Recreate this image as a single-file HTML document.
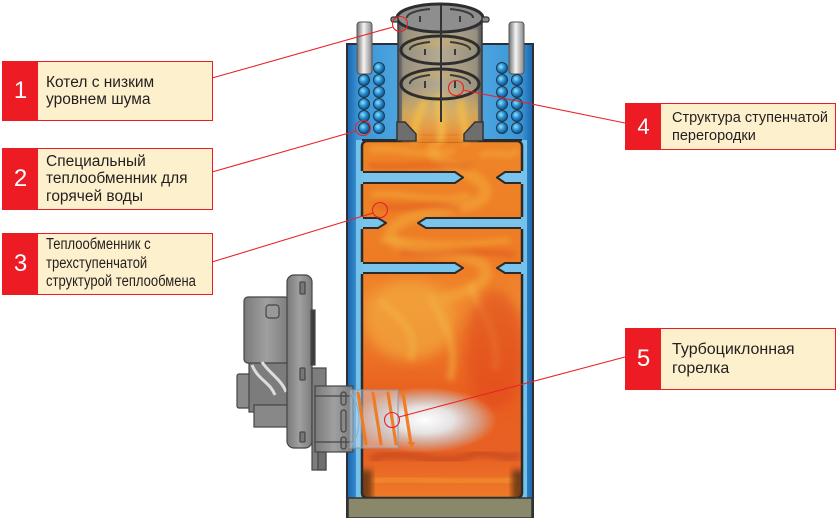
<!DOCTYPE html>
<html><head><meta charset="utf-8">
<style>
html,body{margin:0;padding:0;background:#fff;}
body{width:838px;height:518px;position:relative;overflow:hidden;font-family:"Liberation Sans",Arial,sans-serif;}
svg{position:absolute;left:0;top:0;}
.lab{position:absolute;box-sizing:border-box;border:1.5px solid #ed1c24;background:#fdf0cc;}
.num{position:absolute;left:0;top:0;bottom:0;width:35px;background:#ed1c24;color:#fff;font-size:24px;display:flex;align-items:center;justify-content:center;}
.txt{position:absolute;top:0;bottom:0;display:flex;align-items:center;font-size:15.5px;line-height:17.5px;color:#231f20;white-space:nowrap;}
.cond{display:inline-block;transform:scaleX(0.84);transform-origin:left center;font-size:15.5px;line-height:18.5px;}
</style></head>
<body>
<svg width="838" height="518" viewBox="0 0 838 518">
<defs>
 <linearGradient id="wall" x1="347" x2="533" y1="0" y2="0" gradientUnits="userSpaceOnUse">
  <stop offset="0" stop-color="#1b62ab"/><stop offset="0.06" stop-color="#3a96d8"/>
  <stop offset="0.5" stop-color="#5fb3e6"/><stop offset="0.94" stop-color="#3a96d8"/>
  <stop offset="1" stop-color="#1b62ab"/>
 </linearGradient>
 <linearGradient id="fire" x1="0" y1="141" x2="0" y2="498" gradientUnits="userSpaceOnUse">
  <stop offset="0" stop-color="#ef8527"/><stop offset="0.35" stop-color="#ee7b26"/>
  <stop offset="0.45" stop-color="#f08a30"/><stop offset="0.7" stop-color="#e9611f"/>
  <stop offset="0.88" stop-color="#e86024"/><stop offset="1" stop-color="#ee7a28"/>
 </linearGradient>
 <linearGradient id="chim" x1="398" x2="482" y1="0" y2="0" gradientUnits="userSpaceOnUse">
  <stop offset="0" stop-color="#555"/><stop offset="0.08" stop-color="#858585"/>
  <stop offset="0.5" stop-color="#aaa69e"/><stop offset="0.92" stop-color="#858585"/>
  <stop offset="1" stop-color="#555"/>
 </linearGradient>
 <linearGradient id="chflame" x1="0" y1="85" x2="0" y2="142" gradientUnits="userSpaceOnUse">
  <stop offset="0" stop-color="#f5c050" stop-opacity="0"/>
  <stop offset="0.5" stop-color="#f6b544" stop-opacity="0.6"/>
  <stop offset="1" stop-color="#f08025" stop-opacity="1"/>
 </linearGradient>
 <linearGradient id="pipe" x1="0" x2="1" y1="0" y2="0">
  <stop offset="0" stop-color="#6f6f6f"/><stop offset="0.45" stop-color="#f5f5f5"/><stop offset="1" stop-color="#858585"/>
 </linearGradient>
 <radialGradient id="ball" cx="0.4" cy="0.38" r="0.65">
  <stop offset="0" stop-color="#8fe2ff"/><stop offset="0.5" stop-color="#2790d2"/><stop offset="1" stop-color="#0d4a82"/>
 </radialGradient>
 <radialGradient id="glow" cx="0.5" cy="0.5" r="0.5">
  <stop offset="0" stop-color="#ffffff" stop-opacity="1"/>
  <stop offset="0.4" stop-color="#e6f1f8" stop-opacity="0.9"/>
  <stop offset="0.72" stop-color="#c6e0f2" stop-opacity="0.5"/>
  <stop offset="1" stop-color="#c6e0f2" stop-opacity="0"/>
 </radialGradient>
 <linearGradient id="metal" x1="0" x2="1" y1="0" y2="0">
  <stop offset="0" stop-color="#7a7a7a"/><stop offset="0.5" stop-color="#a0a0a0"/><stop offset="1" stop-color="#7c7c7c"/>
 </linearGradient>
 <filter id="b3" x="-20%" y="-20%" width="140%" height="140%"><feGaussianBlur stdDeviation="3"/></filter>
 <filter id="b6" x="-30%" y="-30%" width="160%" height="160%"><feGaussianBlur stdDeviation="6"/></filter>
 <clipPath id="chamb"><rect x="362" y="141" width="160" height="357" rx="5"/></clipPath>
</defs>

<rect x="347" y="44" width="186" height="474" fill="url(#wall)" stroke="#2c3036" stroke-width="2"/>
<rect x="356" y="140" width="171" height="358" fill="#74c1ea"/>

<rect x="362" y="141" width="160" height="357" rx="5" fill="url(#fire)"/>
<g clip-path="url(#chamb)">
 <path d="M440 300 C470 290 490 285 485 267 C470 250 420 255 400 245 C380 235 395 225 405 220 C430 208 480 210 485 195 C490 180 460 170 440 160 C425 152 440 140 440 130" fill="none" stroke="#f3a73a" stroke-width="12" opacity="0.6" filter="url(#b3)"/>
 <path d="M370 150 C400 145 420 160 455 150 M480 155 C500 150 510 160 518 150 M372 195 C400 190 430 205 470 195 M380 240 C410 238 440 250 510 240" fill="none" stroke="#f4b440" stroke-width="5" opacity="0.55" filter="url(#b3)"/>
 <path d="M375 205 C400 212 430 200 460 210 M400 252 C430 258 470 248 515 255 M368 165 C400 170 430 160 470 168" fill="none" stroke="#d9461f" stroke-width="5" opacity="0.5" filter="url(#b3)"/>
 <ellipse cx="410" cy="320" rx="45" ry="40" fill="#f2a73c" opacity="0.7" filter="url(#b6)"/>
 <path d="M380 300 C400 320 420 330 410 360 M430 295 C440 320 460 340 450 380 M470 285 C480 310 500 330 495 370" fill="none" stroke="#f4b444" stroke-width="7" opacity="0.55" filter="url(#b3)"/>
 <ellipse cx="495" cy="350" rx="30" ry="60" fill="#e0471f" opacity="0.6" filter="url(#b6)"/>
 <path d="M370 460 C400 445 440 470 470 455 C490 448 505 462 520 455" fill="none" stroke="#b23e1c" stroke-width="8" opacity="0.5" filter="url(#b3)"/>
 <path d="M372 482 C400 472 440 487 515 480" fill="none" stroke="#f2902f" stroke-width="10" opacity="0.7" filter="url(#b3)"/>
 <rect x="358" y="470" width="14" height="32" fill="#2a1a10" opacity="0.6" filter="url(#b3)"/>
 <rect x="512" y="470" width="14" height="32" fill="#2a1a10" opacity="0.6" filter="url(#b3)"/>
</g>
<rect x="362" y="141" width="160" height="357" rx="5" fill="none" stroke="#2b2a28" stroke-width="2.5"/>

<g fill="#7ac4ec" stroke="#2b2a28" stroke-width="2" stroke-linejoin="round">
 <polygon points="362,172 455,172 463,177.5 455,183 362,183"/>
 <polygon points="522,172 505,172 497,177.5 505,183 522,183"/>
 <polygon points="522,218 426,218 418,223 426,228 522,228"/>
 <polygon points="362,218 378,218 386,223 378,228 362,228"/>
 <polygon points="362,263 455,263 463,268 455,273 362,273"/>
 <polygon points="522,263 505,263 497,268 505,273 522,273"/>
</g>
<rect x="358" y="171" width="5" height="13" fill="#74c1ea"/>
<rect x="358" y="217" width="5" height="12" fill="#74c1ea"/>
<rect x="358" y="262" width="5" height="12" fill="#74c1ea"/>
<rect x="521" y="171" width="5" height="13" fill="#74c1ea"/>
<rect x="521" y="217" width="5" height="12" fill="#74c1ea"/>
<rect x="521" y="262" width="5" height="12" fill="#74c1ea"/>

<rect x="349" y="46" width="182" height="94" fill="url(#wall)"/>
<line x1="362" y1="140" x2="522" y2="140" stroke="#2b2a28" stroke-width="2"/>

<rect x="398" y="18" width="84" height="117" fill="url(#chim)" stroke="#3a3a3a" stroke-width="1.5"/>
<ellipse cx="440" cy="18" rx="42" ry="13" fill="#8e8e8e"/>
<rect x="402" y="30" width="76" height="100" fill="#d8b870" opacity="0.25"/>
<path d="M410 40 C430 50 450 35 470 45 M412 75 C430 70 450 80 468 72" stroke="#e0b050" stroke-width="6" fill="none" opacity="0.45" filter="url(#b3)"/>
<rect x="402" y="85" width="76" height="57" fill="url(#chflame)"/>
<path d="M415 142 C412 125 420 115 425 100 M440 142 C445 120 436 110 440 95 M465 142 C468 125 458 112 462 100" stroke="#f6c048" stroke-width="7" fill="none" opacity="0.8" filter="url(#b3)"/>
<polygon points="397,122 405,122 416,134 416,141 397,141" fill="#6e6e6e" stroke="#333" stroke-width="1.5"/>
<polygon points="483,122 475,122 464,134 464,141 483,141" fill="#6e6e6e" stroke="#333" stroke-width="1.5"/>
<g fill="none" stroke="#2e2e2e" stroke-width="3">
 <ellipse cx="440" cy="18" rx="43" ry="14"/>
 <ellipse cx="440" cy="50" rx="39" ry="14"/>
 <ellipse cx="440" cy="84" rx="39" ry="15"/>
</g>
<g fill="none" stroke="#3a3a3a" stroke-width="2">
 <path d="M407 18 A33 9 0 0 1 430 9 M450 9 A33 9 0 0 1 473 18"/>
 <path d="M410 50 A30 8 0 0 1 430 42 M450 42 A30 8 0 0 1 470 50"/>
 <path d="M410 84 A30 9 0 0 1 430 75 M450 75 A30 9 0 0 1 470 84"/>
 <path d="M420 22 v-6 M460 22 v-6 M425 55 v-6 M455 55 v-6 M425 88 v-7 M455 88 v-7"/>
</g>
<line x1="441" y1="5" x2="441" y2="122" stroke="#333" stroke-width="2"/>
<rect x="391" y="17" width="7" height="5" rx="2" fill="#888" stroke="#333" stroke-width="1.2"/>
<rect x="482" y="17" width="7" height="5" rx="2" fill="#888" stroke="#333" stroke-width="1.2"/>

<rect x="357" y="22" width="15" height="52" rx="3" fill="url(#pipe)" stroke="#555" stroke-width="1"/>
<rect x="509" y="22" width="15" height="52" rx="3" fill="url(#pipe)" stroke="#555" stroke-width="1"/>

<g fill="url(#ball)" stroke="#23384a" stroke-width="1">
 <circle cx="364" cy="80" r="5.5"/><circle cx="364" cy="92" r="5.5"/><circle cx="364" cy="104" r="5.5"/><circle cx="364" cy="116" r="5.5"/><circle cx="364" cy="128" r="5.5"/>
 <circle cx="379" cy="68" r="5.5"/><circle cx="379" cy="80" r="5.5"/><circle cx="379" cy="92" r="5.5"/><circle cx="379" cy="104" r="5.5"/><circle cx="379" cy="116" r="5.5"/><circle cx="379" cy="128" r="5.5"/>
 <circle cx="502" cy="68" r="5.5"/><circle cx="502" cy="80" r="5.5"/><circle cx="502" cy="92" r="5.5"/><circle cx="502" cy="104" r="5.5"/><circle cx="502" cy="116" r="5.5"/><circle cx="502" cy="128" r="5.5"/>
 <circle cx="517" cy="80" r="5.5"/><circle cx="517" cy="92" r="5.5"/><circle cx="517" cy="104" r="5.5"/><circle cx="517" cy="116" r="5.5"/><circle cx="517" cy="128" r="5.5"/>
</g>

<rect x="348" y="498" width="184" height="20" fill="#8a886a" stroke="#333" stroke-width="1.5"/>

<g stroke="#454545" stroke-width="1.2">
 <rect x="237" y="374" width="17" height="34" rx="2" fill="#8a8a8a"/>
 <rect x="249" y="360" width="40" height="52" fill="#7c7c7c"/>
 <rect x="254" y="405" width="34" height="22" fill="#888"/>
 <rect x="244" y="297" width="45" height="66" rx="4" fill="url(#metal)"/>
 <rect x="266" y="305" width="13" height="13" rx="3" fill="#999"/>
 <path d="M252 365 C258 380 270 382 275 395 M262 362 C268 372 282 380 286 392" fill="none" stroke="#ddd" stroke-width="3"/>
 <rect x="287" y="275" width="25" height="173" rx="7" fill="url(#metal)"/>
 <rect x="300" y="282" width="5" height="12" rx="1" fill="#777"/>
 <rect x="300" y="368" width="5" height="12" rx="1" fill="#777"/>
 <rect x="300" y="432" width="5" height="10" rx="1" fill="#777"/>
 <rect x="311" y="310" width="4" height="55" fill="#3d3d3d"/>
 <rect x="312" y="368" width="14" height="102" fill="#7d7d7d"/>
 <rect x="315" y="386" width="38" height="66" fill="url(#metal)"/>
 <rect x="341" y="392" width="5" height="13" rx="2.5" fill="#888"/>
 <rect x="341" y="410" width="5" height="22" rx="2.5" fill="#888"/>
 <rect x="341" y="437" width="5" height="12" rx="2.5" fill="#888"/>
 <line x1="315" y1="396" x2="353" y2="396" />
 <line x1="315" y1="442" x2="353" y2="442" />
 <rect x="318" y="452" width="8" height="18" fill="#6f6f6f"/>
</g>

<ellipse cx="425" cy="420" rx="72" ry="33" fill="url(#glow)"/>
<rect x="350" y="390" width="48" height="58" fill="#cfe4f4" fill-opacity="0.45" stroke="#8c9aa8" stroke-width="1"/>
<path d="M350 392 C362 405 362 435 350 448" fill="none" stroke="#8fb0cc" stroke-width="1.2"/>
<g stroke="#f07a20" stroke-width="3.2" stroke-linecap="round" opacity="0.95">
 <line x1="358" y1="393" x2="366" y2="444"/>
 <line x1="373" y1="393" x2="381" y2="444"/>
 <line x1="388" y1="393" x2="396" y2="444"/>
 <line x1="403" y1="393" x2="411" y2="444"/>
</g>
<polygon points="407,442 415,442 412,448" fill="#f07a20"/>

<g stroke="#e8232a" stroke-width="1.1" fill="none">
 <line x1="212" y1="78" x2="393" y2="27"/>
 <circle cx="400" cy="24" r="7.5"/>
 <line x1="212" y1="172" x2="356" y2="131"/>
 <circle cx="363" cy="128" r="7.5"/>
 <line x1="212" y1="262" x2="373" y2="213"/>
 <circle cx="380" cy="210" r="7.5"/>
 <line x1="463" y1="90" x2="625" y2="123"/>
 <circle cx="456" cy="88" r="7.5"/>
 <line x1="399" y1="417" x2="625" y2="357"/>
 <circle cx="392" cy="420" r="7.5"/>
</g>
</svg>

<div class="lab" style="left:2px;top:61px;width:211px;height:60px;">
 <div class="num">1</div>
 <div class="txt" style="left:43px;">Котел с низким<br>уровнем шума</div>
</div>
<div class="lab" style="left:2px;top:148px;width:211px;height:62px;">
 <div class="num">2</div>
 <div class="txt" style="left:43px;">Специальный<br>теплообменник для<br>горячей воды</div>
</div>
<div class="lab" style="left:2px;top:233px;width:211px;height:62px;">
 <div class="num">3</div>
 <div class="txt" style="left:43px;"><span class="cond">Теплообменник с<br>трехступенчатой<br>структурой теплообмена</span></div>
</div>
<div class="lab" style="left:625px;top:103px;width:211px;height:47px;">
 <div class="num" style="font-size:22px;">4</div>
 <div class="txt" style="left:46px;font-size:14.5px;line-height:18px;">Структура ступенчатой<br>перегородки</div>
</div>
<div class="lab" style="left:625px;top:328px;width:211px;height:62px;">
 <div class="num">5</div>
 <div class="txt" style="left:46px;font-size:16px;line-height:19px;">Турбоциклонная<br>горелка</div>
</div>
</body></html>
